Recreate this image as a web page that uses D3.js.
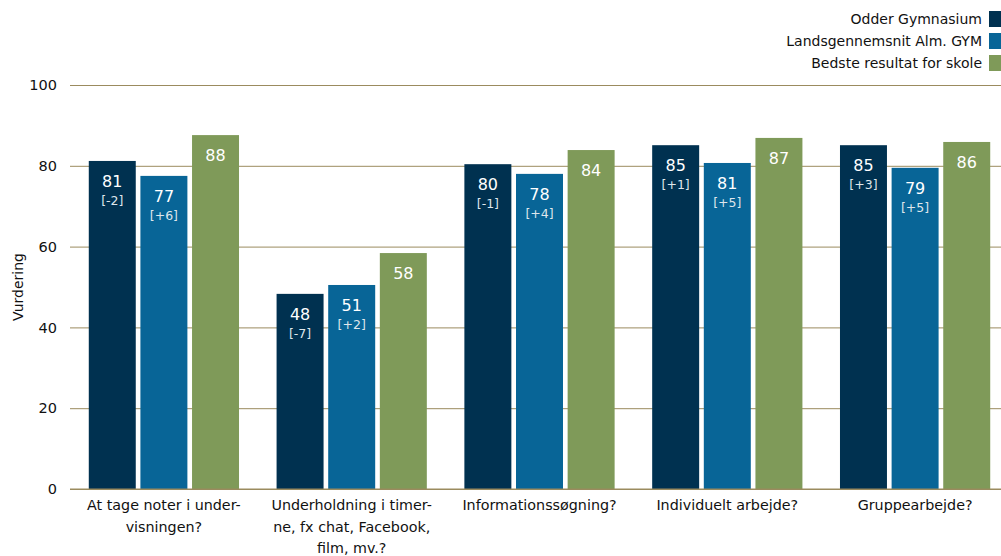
<!DOCTYPE html>
<html><head><meta charset="utf-8">
<script src="https://cdn.jsdelivr.net/npm/d3@7"></script>
<style>body{margin:0;background:#fff}svg{display:block}text{font-family:"DejaVu Sans",sans-serif}</style>
</head><body><svg id="c" width="1001" height="556"></svg>
<script>
const categories = ["At tage noter i under-\nvisningen?","Underholdning i timer-\nne, fx chat, Facebook,\nfilm, mv.?","Informationssøgning?","Individuelt arbejde?","Gruppearbejde?"];
const seriesNames = ["Odder Gymnasium","Landsgennemsnit Alm. GYM","Bedste resultat for skole"];
const odder = [81.2, 48.3, 80.4, 85.1, 85.1];
const lands = [77.5, 50.5, 78.0, 80.7, 79.5];
const bedste = [87.6, 58.4, 83.9, 86.9, 85.9];
const odderLabels = ["81","48","80","85","85"];
const landsLabels = ["77","51","78","81","79"];
const bedsteLabels = ["88","58","84","87","86"];
const odderDiff = ["[-2]","[-7]","[-1]","[+1]","[+3]"];
const landsDiff = ["[+6]","[+2]","[+4]","[+5]","[+5]"];
const yTicks = [0,20,40,60,80,100];
const colors = ["#003150","#086597","#7f9a59"];

const svg = d3.select("#c");
const y = d3.scaleLinear().domain([0,100]).range([489,85]);
const x0 = d3.scaleBand().domain(categories).range([70,1009]).paddingInner(0.2).paddingOuter(0.1);
const x1 = d3.scaleBand().domain([0,1,2]).range([0,x0.bandwidth()]).paddingInner(0.09);
const gridColor = "#9b8b5e";

svg.append("g").attr("transform","translate(70,0)")
  .call(d3.axisLeft(y).tickValues(yTicks).tickSize(-931).tickPadding(13))
  .call(g=>g.select(".domain").remove())
  .call(g=>g.selectAll(".tick line").attr("stroke",gridColor).attr("stroke-width",1))
  .call(g=>g.selectAll(".tick text").attr("font-size",14.5).attr("fill","#111").attr("font-family","DejaVu Sans"));

const series = [odder,lands,bedste];
const valLabels = [odderLabels,landsLabels,bedsteLabels];
const diffLabels = [odderDiff,landsDiff,null];

categories.forEach((c,i)=>{
  const g = svg.append("g").attr("transform",`translate(${x0(c)},0)`);
  series.forEach((s,j)=>{
    const bx = x1(j), bw = x1.bandwidth();
    g.append("rect").attr("x",bx).attr("width",bw).attr("y",y(s[i])).attr("height",y(0)-y(s[i])).attr("fill",colors[j]);
    g.append("text").attr("x",bx+bw/2).attr("y",y(s[i])+26).attr("text-anchor","middle")
      .attr("font-size",16).attr("fill","#ffffff").text(valLabels[j][i]);
    if(diffLabels[j]){
      g.append("text").attr("x",bx+bw/2).attr("y",y(s[i])+44).attr("text-anchor","middle")
        .attr("font-size",12.5).attr("fill","#dfe6ec").text(diffLabels[j][i]);
    }
  });
  const lines = c.split("\n");
  const cx = x0(c)+x0.bandwidth()/2;
  const t = svg.append("text").attr("x",cx).attr("y",510).attr("text-anchor","middle")
    .attr("font-size",14.3).attr("fill","#111");
  lines.forEach((l,k)=>t.append("tspan").attr("x",cx).attr("dy",k?21.5:0).text(l));
});

svg.append("line").attr("x1",70).attr("x2",1001).attr("y1",y(0)).attr("y2",y(0)).attr("stroke",gridColor);

svg.append("text").attr("transform","translate(23,287) rotate(-90)").attr("text-anchor","middle")
  .attr("font-size",14).attr("fill","#111").text("Vurdering");

seriesNames.forEach((n,j)=>{
  const yy = 19 + j*22;
  svg.append("rect").attr("x",989).attr("y",yy-8).attr("width",14).attr("height",16).attr("fill",colors[j]);
  svg.append("text").attr("x",982).attr("y",yy+5).attr("text-anchor","end").attr("font-size",14).attr("fill","#111").text(n);
});
</script></body></html>
